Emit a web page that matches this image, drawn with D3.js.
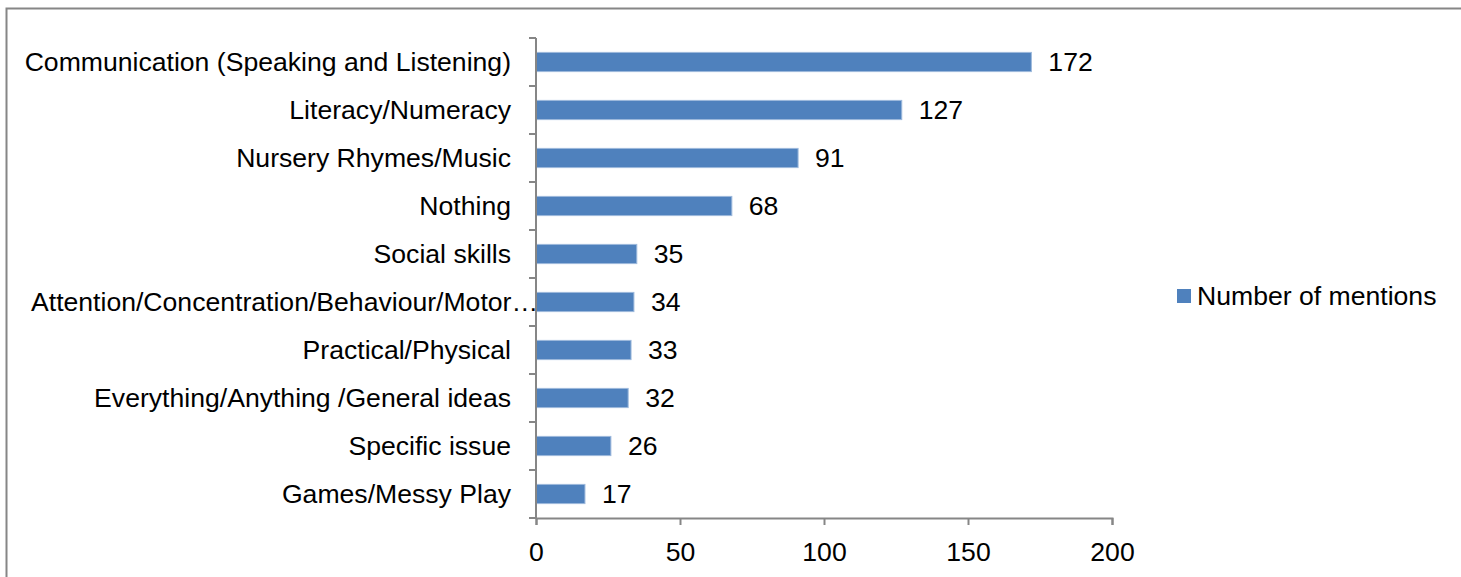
<!DOCTYPE html>
<html>
<head>
<meta charset="utf-8">
<script src="https://cdnjs.cloudflare.com/ajax/libs/d3/7.8.5/d3.min.js"></script>
<style>
  body { margin: 0; background: #fff; }
  svg text { font-family: "Liberation Sans", Arial, sans-serif; fill: #000; }
</style>
</head>
<body>
<div id="chart"></div>
<script>
var categories = ["Communication (Speaking and Listening)", "Literacy/Numeracy", "Nursery Rhymes/Music",
  "Nothing", "Social skills", "Attention/Concentration/Behaviour/Motor\u2026", "Practical/Physical",
  "Everything/Anything /General ideas", "Specific issue", "Games/Messy Play"];
var mentions = [172, 127, 91, 68, 35, 34, 33, 32, 26, 17];
var xTicks = [0, 50, 100, 150, 200];
var seriesName = "Number of mentions";

var W = 1461, H = 577;
var margin = {top: 38, left: 536, right: 349, bottom: 59};
var fontSize = 26.6;
var axisColor = "#868686";

var svg = d3.select("#chart").append("svg")
    .attr("width", W)
    .attr("height", H);

// chart area border (runs off right and bottom)
svg.append("rect")
    .attr("x", 6.5).attr("y", 8.5)
    .attr("width", W + 20).attr("height", H + 20)
    .attr("fill", "none")
    .attr("stroke", axisColor)
    .attr("stroke-width", 2);

var x = d3.scaleLinear().domain([0, 200]).range([margin.left, W - margin.right]);
var y = d3.scaleBand().domain(categories).range([margin.top, H - margin.bottom]).paddingInner(0.6).paddingOuter(0.3);
var yEdge = d3.scaleLinear().domain([0, categories.length]).range([margin.top, H - margin.bottom]);

// bars
svg.selectAll("rect.bar")
    .data(mentions)
  .enter().append("rect")
    .attr("class", "bar")
    .attr("x", x(0))
    .attr("y", function(d, i) { return y(categories[i]); })
    .attr("width", function(d) { return x(d) - x(0); })
    .attr("height", y.bandwidth())
    .attr("fill", "#4F81BD")
    .attr("stroke", "#9db9dc")
    .attr("stroke-width", 1);

// value labels
svg.selectAll("text.val")
    .data(mentions)
  .enter().append("text")
    .attr("class", "val")
    .attr("x", function(d) { return x(d) + 17; })
    .attr("y", function(d, i) { return y(categories[i]) + y.bandwidth() / 2 + 9; })
    .style("font-size", fontSize + "px")
    .text(function(d) { return d; });

// category labels (the truncated one overflows to the axis)
svg.selectAll("text.cat")
    .data(categories)
  .enter().append("text")
    .attr("class", "cat")
    .attr("x", x(0) - 25)
    .attr("y", function(d) { return y(d) + y.bandwidth() / 2 + 9; })
    .attr("text-anchor", "end")
    .style("font-size", fontSize + "px")
    .text(function(d) { return d; })
    .each(function() {
      var w = this.getComputedTextLength();
      if (x(0) - 25 - w < 12) {
        d3.select(this).attr("text-anchor", "start").attr("x", 31);
      }
    });

// y axis line and ticks
var ya = svg.append("g").attr("stroke", axisColor).attr("stroke-width", 2);
ya.append("line")
    .attr("x1", x(0)).attr("x2", x(0))
    .attr("y1", yEdge(0)).attr("y2", yEdge(categories.length));
ya.selectAll("line.tk")
    .data(d3.range(categories.length + 1))
  .enter().append("line")
    .attr("class", "tk")
    .attr("x1", x(0) - 7).attr("x2", x(0))
    .attr("y1", function(d) { return yEdge(d); })
    .attr("y2", function(d) { return yEdge(d); });

// x axis
var xa = svg.append("g")
    .attr("transform", "translate(0," + yEdge(categories.length) + ")")
    .call(d3.axisBottom(x).tickValues(xTicks).tickSize(7).tickPadding(17));
xa.select(".domain").attr("stroke", axisColor).attr("stroke-width", 2);
xa.selectAll(".tick line").attr("stroke", axisColor).attr("stroke-width", 2);
xa.selectAll(".tick text")
    .style("font-size", fontSize + "px")
    .style("font-family", "'Liberation Sans', Arial, sans-serif")
    .attr("fill", "#000");

// legend
var lg = svg.append("g");
lg.append("rect")
    .attr("x", 1177).attr("y", 289)
    .attr("width", 14).attr("height", 14)
    .attr("fill", "#4F81BD");
lg.append("text")
    .attr("x", 1197).attr("y", 305)
    .style("font-size", fontSize + "px")
    .text(seriesName);
</script>
</body>
</html>
